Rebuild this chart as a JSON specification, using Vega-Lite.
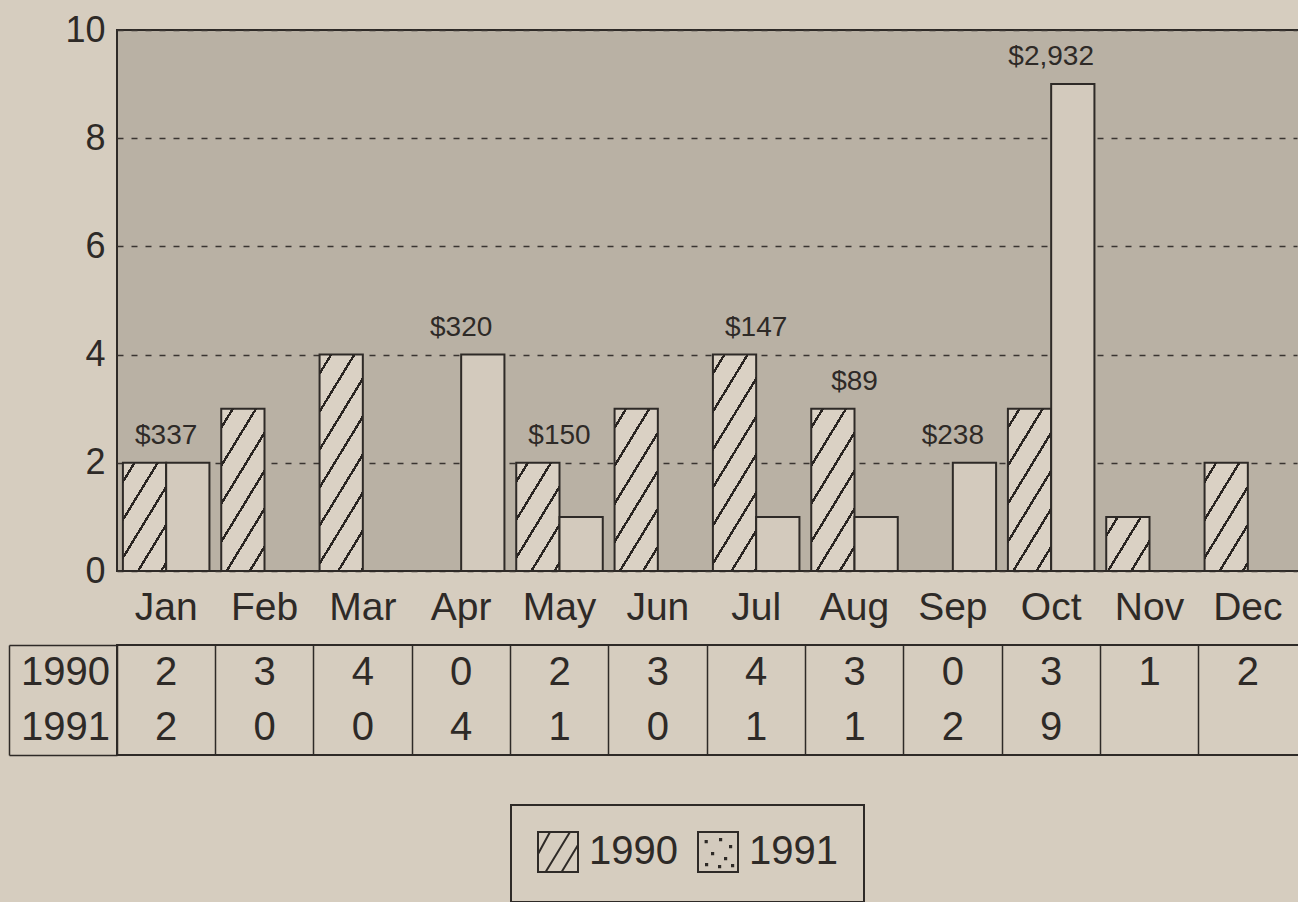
{
  "$schema": "https://vega.github.io/schema/vega-lite/v6.json",
  "background": "#d6cdbf",
  "padding": {"left": 7, "top": 11, "right": 0, "bottom": 0},
  "spacing": -4,
  "config": {
    "font": "Liberation Sans",
    "axis": {"labelFont": "Liberation Sans", "labelColor": "#2e2a27", "labelFontSize": 36},
    "legend": {"labelFont": "Liberation Sans", "strokeWidth": 2}
  },
  "datasets": {
    "counts": [
      {"month": "Jan", "year": "1990", "count": 2},
      {"month": "Feb", "year": "1990", "count": 3},
      {"month": "Mar", "year": "1990", "count": 4},
      {"month": "Apr", "year": "1990", "count": 0},
      {"month": "May", "year": "1990", "count": 2},
      {"month": "Jun", "year": "1990", "count": 3},
      {"month": "Jul", "year": "1990", "count": 4},
      {"month": "Aug", "year": "1990", "count": 3},
      {"month": "Sep", "year": "1990", "count": 0},
      {"month": "Oct", "year": "1990", "count": 3},
      {"month": "Nov", "year": "1990", "count": 1},
      {"month": "Dec", "year": "1990", "count": 2},
      {"month": "Jan", "year": "1991", "count": 2},
      {"month": "Feb", "year": "1991", "count": 0},
      {"month": "Mar", "year": "1991", "count": 0},
      {"month": "Apr", "year": "1991", "count": 4},
      {"month": "May", "year": "1991", "count": 1},
      {"month": "Jun", "year": "1991", "count": 0},
      {"month": "Jul", "year": "1991", "count": 1},
      {"month": "Aug", "year": "1991", "count": 1},
      {"month": "Sep", "year": "1991", "count": 2},
      {"month": "Oct", "year": "1991", "count": 9}
    ],
    "amounts": [
      {"month": "Jan", "amount": "$337"},
      {"month": "Apr", "amount": "$320"},
      {"month": "May", "amount": "$150"},
      {"month": "Jul", "amount": "$147"},
      {"month": "Aug", "amount": "$89"},
      {"month": "Sep", "amount": "$238"},
      {"month": "Oct", "amount": "$2,932"}
    ]
  },
  "vconcat": [
    {
      "width": 1195,
      "height": 541,
      "view": {"fill": "#b9b1a4", "stroke": "#2e2a27", "strokeWidth": 2},
      "data": {"name": "counts"},
      "encoding": {
        "x": {
          "field": "month", "type": "nominal", "sort": null,
          "scale": {"type": "band", "domain": ["Jan","Feb","Mar","Apr","May","Jun","Jul","Aug","Sep","Oct","Nov","Dec"], "range": [0, 1180], "paddingInner": 0.12, "paddingOuter": 0.06},
          "axis": {"title": null, "labelAngle": 0, "ticks": false, "domain": false, "labelPadding": 17, "labelFontSize": 39}
        }
      },
      "layer": [
        {
          "mark": {"type": "bar", "stroke": "#2e2a27", "strokeWidth": 2},
          "encoding": {
            "xOffset": {"field": "year", "type": "nominal", "scale": {"domain": ["1990", "1991"]}},
            "y": {
              "field": "count", "type": "quantitative",
              "scale": {"domain": [0, 10], "nice": false},
              "axis": {"title": null, "values": [0,2,4,6,8,10], "ticks": false, "domain": false, "labelPadding": 12, "grid": true, "gridDash": [6, 8], "gridColor": "#3a3531", "gridWidth": 1.5, "labelFontSize": 36}
            },
            "fill": {
              "field": "year", "type": "nominal",
              "scale": {"domain": ["1990", "1991"], "range": ["#d6cdbf", "#d3cabd"]},
              "condition": [
                {"test": "datum.year === '1990' && datum.count === 1", "value": {"gradient": "linear", "x1": 0, "y1": 0, "x2": 1.115, "y2": 0.849, "stops": [
                  {"offset": 0.1338, "color": "#dad1c4"}, {"offset": 0.1338, "color": "#2a2522"}, {"offset": 0.1702, "color": "#2a2522"}, {"offset": 0.1702, "color": "#dad1c4"},
                  {"offset": 0.4378, "color": "#dad1c4"}, {"offset": 0.4378, "color": "#2a2522"}, {"offset": 0.4742, "color": "#2a2522"}, {"offset": 0.4742, "color": "#dad1c4"},
                  {"offset": 0.7418, "color": "#dad1c4"}, {"offset": 0.7418, "color": "#2a2522"}, {"offset": 0.7782, "color": "#2a2522"}, {"offset": 0.7782, "color": "#dad1c4"}
                ]}},
                {"test": "datum.year === '1990' && datum.count === 2", "value": {"gradient": "linear", "x1": 0, "y1": 0, "x2": 0.760, "y2": 1.158, "stops": [
                  {"offset": 0.0933, "color": "#dad1c4"}, {"offset": 0.0933, "color": "#2a2522"}, {"offset": 0.1187, "color": "#2a2522"}, {"offset": 0.1187, "color": "#dad1c4"},
                  {"offset": 0.3053, "color": "#dad1c4"}, {"offset": 0.3053, "color": "#2a2522"}, {"offset": 0.3307, "color": "#2a2522"}, {"offset": 0.3307, "color": "#dad1c4"},
                  {"offset": 0.5173, "color": "#dad1c4"}, {"offset": 0.5173, "color": "#2a2522"}, {"offset": 0.5427, "color": "#2a2522"}, {"offset": 0.5427, "color": "#dad1c4"},
                  {"offset": 0.7293, "color": "#dad1c4"}, {"offset": 0.7293, "color": "#2a2522"}, {"offset": 0.7547, "color": "#2a2522"}, {"offset": 0.7547, "color": "#dad1c4"},
                  {"offset": 0.9413, "color": "#dad1c4"}, {"offset": 0.9413, "color": "#2a2522"}, {"offset": 0.9667, "color": "#2a2522"}, {"offset": 0.9667, "color": "#dad1c4"}
                ]}},
                {"test": "datum.year === '1990' && datum.count === 3", "value": {"gradient": "linear", "x1": 0, "y1": 0, "x2": 0.528, "y2": 1.207, "stops": [
                  {"offset": 0.0717, "color": "#dad1c4"}, {"offset": 0.0717, "color": "#2a2522"}, {"offset": 0.0913, "color": "#2a2522"}, {"offset": 0.0913, "color": "#dad1c4"},
                  {"offset": 0.2346, "color": "#dad1c4"}, {"offset": 0.2346, "color": "#2a2522"}, {"offset": 0.2542, "color": "#2a2522"}, {"offset": 0.2542, "color": "#dad1c4"},
                  {"offset": 0.3975, "color": "#dad1c4"}, {"offset": 0.3975, "color": "#2a2522"}, {"offset": 0.4171, "color": "#2a2522"}, {"offset": 0.4171, "color": "#dad1c4"},
                  {"offset": 0.5604, "color": "#dad1c4"}, {"offset": 0.5604, "color": "#2a2522"}, {"offset": 0.5800, "color": "#2a2522"}, {"offset": 0.5800, "color": "#dad1c4"},
                  {"offset": 0.7233, "color": "#dad1c4"}, {"offset": 0.7233, "color": "#2a2522"}, {"offset": 0.7429, "color": "#2a2522"}, {"offset": 0.7429, "color": "#dad1c4"},
                  {"offset": 0.8862, "color": "#dad1c4"}, {"offset": 0.8862, "color": "#2a2522"}, {"offset": 0.9058, "color": "#2a2522"}, {"offset": 0.9058, "color": "#dad1c4"}
                ]}},
                {"test": "datum.year === '1990' && datum.count === 4", "value": {"gradient": "linear", "x1": 0, "y1": 0, "x2": 0.3934, "y2": 1.199, "stops": [
                  {"offset": 0.0582, "color": "#dad1c4"}, {"offset": 0.0582, "color": "#2a2522"}, {"offset": 0.0740, "color": "#2a2522"}, {"offset": 0.0740, "color": "#dad1c4"},
                  {"offset": 0.1904, "color": "#dad1c4"}, {"offset": 0.1904, "color": "#2a2522"}, {"offset": 0.2062, "color": "#2a2522"}, {"offset": 0.2062, "color": "#dad1c4"},
                  {"offset": 0.3226, "color": "#dad1c4"}, {"offset": 0.3226, "color": "#2a2522"}, {"offset": 0.3384, "color": "#2a2522"}, {"offset": 0.3384, "color": "#dad1c4"},
                  {"offset": 0.4548, "color": "#dad1c4"}, {"offset": 0.4548, "color": "#2a2522"}, {"offset": 0.4706, "color": "#2a2522"}, {"offset": 0.4706, "color": "#dad1c4"},
                  {"offset": 0.5870, "color": "#dad1c4"}, {"offset": 0.5870, "color": "#2a2522"}, {"offset": 0.6028, "color": "#2a2522"}, {"offset": 0.6028, "color": "#dad1c4"},
                  {"offset": 0.7192, "color": "#dad1c4"}, {"offset": 0.7192, "color": "#2a2522"}, {"offset": 0.7350, "color": "#2a2522"}, {"offset": 0.7350, "color": "#dad1c4"},
                  {"offset": 0.8514, "color": "#dad1c4"}, {"offset": 0.8514, "color": "#2a2522"}, {"offset": 0.8672, "color": "#2a2522"}, {"offset": 0.8672, "color": "#dad1c4"},
                  {"offset": 0.9836, "color": "#dad1c4"}, {"offset": 0.9836, "color": "#2a2522"}, {"offset": 0.9994, "color": "#2a2522"}, {"offset": 0.9994, "color": "#dad1c4"}
                ]}}
              ],
              "legend": {
                "title": null, "orient": "none", "legendX": 394, "legendY": 775, "direction": "horizontal",
                "symbolSize": 1600, "symbolStrokeColor": "#2e2a27", "symbolStrokeWidth": 2, "symbolOpacity": 1,
                "labelFontSize": 40, "labelColor": "#2e2a27", "labelOffset": 10, "columnPadding": 16,
                "padding": 26, "strokeColor": "#2e2a27"
              }
            }
          }
        },
        {
          "mark": {"type": "point", "size": 0, "strokeWidth": 0, "filled": false},
          "encoding": {
            "xOffset": {"field": "year", "type": "nominal", "scale": {"domain": ["1990", "1991"]}},
            "y": {"field": "count", "type": "quantitative", "axis": {"title": null}},
            "shape": {
              "field": "year", "type": "nominal",
              "scale": {"domain": ["1990", "1991"], "range": [
                "M-1,-1H1V1H-1Z M-1,0.1L-0.4,-1 M-0.62,1L0.6,-1 M0.18,1L1,-0.35",
                "M-1,-1H1V1H-1Z M-0.62,-0.55h0.06v0.06h-0.06Z M0.1,-0.65h0.06v0.06h-0.06Z M0.6,-0.3h0.06v0.06h-0.06Z M-0.3,0.05h0.06v0.06h-0.06Z M0.35,0.3h0.06v0.06h-0.06Z M-0.6,0.6h0.06v0.06h-0.06Z M0.05,0.7h0.06v0.06h-0.06Z M0.7,0.65h0.06v0.06h-0.06Z"
              ]},
              "legend": {
                "title": null, "orient": "none", "legendX": 394, "legendY": 775, "direction": "horizontal",
                "symbolSize": 1600, "symbolStrokeColor": "#2e2a27", "symbolStrokeWidth": 2, "symbolOpacity": 1,
                "labelFontSize": 40, "labelColor": "#2e2a27", "labelOffset": 10, "columnPadding": 16,
                "padding": 26, "strokeColor": "#2e2a27"
              }
            }
          }
        },
        {
          "transform": [
            {"aggregate": [{"op": "max", "field": "count", "as": "top"}], "groupby": ["month"]},
            {"lookup": "month", "from": {"data": {"name": "amounts"}, "key": "month", "fields": ["amount"]}},
            {"filter": "isValid(datum.amount)"}
          ],
          "mark": {"type": "text", "fontSize": 28, "dy": -27, "color": "#2e2a27", "baseline": "middle"},
          "encoding": {
            "y": {"field": "top", "type": "quantitative", "axis": {"title": null}},
            "text": {"field": "amount", "type": "nominal"}
          }
        }
      ]
    },
    {
      "width": 1195,
      "height": 110,
      "view": {"stroke": "#2e2a27", "strokeWidth": 2, "fill": null},
      "data": {"name": "counts"},
      "mark": {"type": "text", "fontSize": 40, "color": "#2e2a27", "baseline": "middle"},
      "encoding": {
        "x": {
          "field": "month", "type": "nominal", "sort": null,
          "scale": {"type": "band", "domain": ["Jan","Feb","Mar","Apr","May","Jun","Jul","Aug","Sep","Oct","Nov","Dec"], "range": [0, 1180], "paddingInner": 0, "paddingOuter": 0},
          "axis": {"title": null, "labels": false, "ticks": false, "domain": false, "grid": true, "bandPosition": 0, "gridColor": "#2e2a27", "gridWidth": 1.5, "gridOpacity": 1}
        },
        "y": {
          "field": "year", "type": "nominal",
          "scale": {"type": "band", "domain": ["1990", "1991"], "paddingInner": 0, "paddingOuter": 0},
          "axis": {
            "title": null, "offset": 108, "tickSize": -108, "tickBand": "extent",
            "tickColor": "#2e2a27", "tickWidth": 1.5,
            "tickOpacity": {"condition": {"test": "datum.value === '1990'", "value": 0}, "value": 1},
            "domain": true, "domainColor": "#2e2a27", "domainWidth": 1.5,
            "labelAlign": "center", "labelBaseline": "middle", "labelPadding": 52, "labelFontSize": 40, "grid": false
          }
        },
        "text": {"field": "count", "type": "quantitative"}
      }
    }
  ]
}
